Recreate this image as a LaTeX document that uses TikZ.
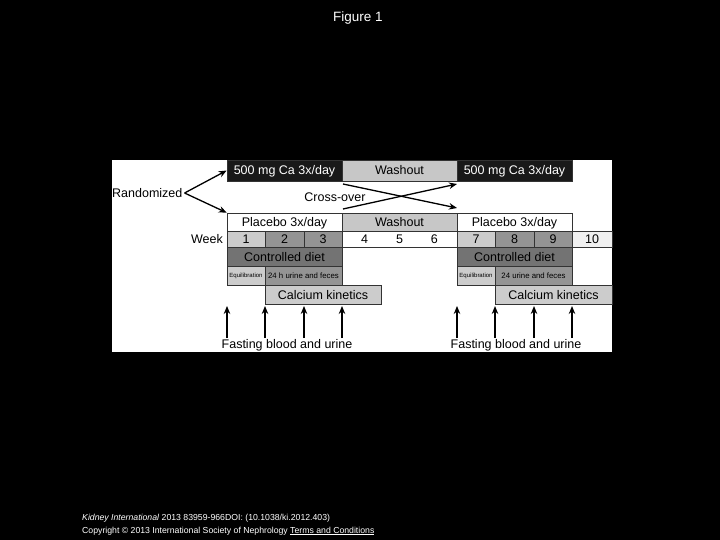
\documentclass[tikz,border=0pt]{standalone}
\usepackage{fontspec}
\setmainfont{Liberation Sans}
\usetikzlibrary{positioning,arrows.meta}
\tikzset{>=stealth}
\definecolor{cadark}{gray}{0.10}
\definecolor{washgray}{gray}{0.78}
\definecolor{weeklight}{gray}{0.80}
\definecolor{weekdark}{gray}{0.58}
\definecolor{dietgray}{gray}{0.45}
\definecolor{kingray}{gray}{0.80}
\tikzset{
  box/.style={draw=gray!40!black, line width=0.6pt, inner sep=0pt, minimum height=#1,
    text height=9pt, text depth=0pt, font=\fontsize{12.5}{14}\selectfont},
  box/.default=18pt,
  tiny/.style={text height=4.3pt, text depth=0pt, font=\fontsize{6}{7}\selectfont},
  small/.style={text height=5.6pt, text depth=0pt, font=\fontsize{7.8}{9}\selectfont},
  lbl/.style={inner sep=0pt, font=\fontsize{12.5}{14}\selectfont},
  ptr/.style={->, line width=1.3pt, >={Stealth[length=8pt,width=6.5pt]}}
}

\begin{document}
\begin{tikzpicture}[x=1pt,y=-1pt]
    \useasboundingbox (0,0) rectangle (720,540);
    \fill[black] (0,0) rectangle (720,540);
    \fill[white] (112,160) rectangle (612,352);
    \node[text=white, font=\fontsize{13.5}{15}\selectfont] (title) at (358,18) {Figure 1};
    % treatment rows
    \node[box=21pt, fill=cadark, text=white, minimum width=115pt] (ca1) at (284.5,170.5) {500 mg Ca 3x/day};
    \node[box=21pt, fill=washgray, minimum width=115pt] (wash1) at (399.5,170.5) {Washout};
    \node[box=21pt, fill=cadark, text=white, minimum width=115pt] (ca2) at (514.5,170.5) {500 mg Ca 3x/day};
    \node[box, fill=white, minimum width=115pt] (pla1) at (284.5,222) {Placebo 3x/day};
    \node[box, fill=washgray, minimum width=115pt] (wash2) at (399.5,222) {Washout};
    \node[box, fill=white, minimum width=115pt] (pla2) at (514.5,222) {Placebo 3x/day};
    \node[lbl, anchor=west] (rand) at (112,193) {Randomized};
    \draw[ptr] ([xshift=2pt]rand.east) -- (ca1.west);
    \draw[ptr] ([xshift=2pt]rand.east) -- (pla1.north west);
    \node[lbl] (cross) at (335,197) {Cross-over};
    \coordinate (xa) at (343,184);
    \coordinate (xb) at (343,209);
    \coordinate (xc) at (457,208);
    \coordinate (xd) at (457,184);
    \draw[ptr] (xa) -- (xc);
    \draw[ptr] (xb) -- (xd);
    % weeks
    \node[lbl, anchor=east] (week) at (223,239) {Week};
    \node[box=16pt, fill=weeklight, minimum width=38pt] (w1) at (246,239) {1};
    \node[box=16pt, fill=weekdark, minimum width=39pt] (w2) at (284.5,239) {2};
    \node[box=16pt, fill=weekdark, minimum width=38pt] (w3) at (323,239) {3};
    \node[box=16pt, fill=white, minimum width=115pt, text width=100pt, align=center] (w46) at (399.5,239) {4\hspace{28pt}5\hspace{28pt}6};
    \node[box=16pt, fill=weeklight, minimum width=38pt] (w7) at (476,239) {7};
    \node[box=16pt, fill=weekdark, minimum width=39pt] (w8) at (514.5,239) {8};
    \node[box=16pt, fill=weekdark, minimum width=38pt] (w9) at (553,239) {9};
    \node[box=16pt, fill=gray!12, minimum width=40pt] (w10) at (592,239) {10};
    % measurements
    \node[box=19pt, fill=dietgray, minimum width=115pt] (diet1) at (284.5,256.5) {Controlled diet};
    \node[box=19pt, fill=dietgray, minimum width=115pt] (diet2) at (514.5,256.5) {Controlled diet};
    \node[box=19pt, fill=weeklight, minimum width=38pt, tiny] (eq1) at (246,275.5) {Equilibration};
    \node[box=19pt, fill=weekdark, minimum width=77pt, small] (uf1) at (303.5,275.5) {24 h urine and feces};
    \node[box=19pt, fill=weeklight, minimum width=38pt, tiny] (eq2) at (476,275.5) {Equilibration};
    \node[box=19pt, fill=weekdark, minimum width=77pt, small] (uf2) at (533.5,275.5) {24 urine and feces};
    \node[box=19pt, fill=kingray, minimum width=116pt] (kin1) at (323,294.5) {Calcium kinetics};
    \node[box=19pt, fill=kingray, minimum width=117pt] (kin2) at (553.5,294.5) {Calcium kinetics};
    % fasting samples
    \node[lbl] (fast1) at (287,345) {Fasting blood and urine};
    \node[lbl] (fast2) at (516,345) {Fasting blood and urine};
    \foreach \px [count=\i] in {227,265,304,342,457,495,534,572} {
        \coordinate (s\i) at (\px,338);
        \coordinate (t\i) at (\px,306);
        \draw[ptr] (s\i) -- (t\i);
    }
    % source line
    \node[text=white, anchor=west, inner sep=0pt, font=\fontsize{8.7}{10}\selectfont] (src) at (82,518) {\textit{Kidney International} 2013 83959-966DOI: (10.1038/ki.2012.403)};
    \node[text=white, anchor=west, inner sep=0pt, font=\fontsize{8.7}{10}\selectfont] (copy) at (82,531) {Copyright © 2013 International Society of Nephrology \underline{Terms and Conditions}};
\end{tikzpicture}
\end{document}
